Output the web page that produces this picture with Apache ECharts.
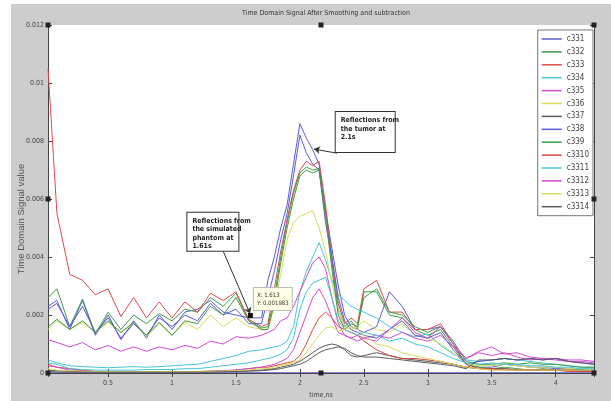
<!DOCTYPE html>
<html>
<head>
<meta charset="utf-8">
<script src="https://cdn.jsdelivr.net/npm/echarts@6/dist/echarts.min.js"></script>
<style>
html, body { margin: 0; padding: 0; background: #fff; }
#echarts1 { width: 611px; height: 401px; }
</style>
</head>
<body>
<div id="echarts1"></div>
<script>
// time axis (ns), finer around the peak
var times = [0.03, 0.1,0.2,0.3,0.4,0.5,0.6,0.7,0.8,0.9,1.0,1.1,1.2,1.3,1.4,1.5,1.6,1.7,
    1.75,1.8,1.85,1.9,1.95,2.0,2.05,2.1,2.15,2.2,2.25,2.3,2.35,2.4,2.45,2.5,
    2.6,2.7,2.8,2.9,3.0,3.1,3.2,3.3,3.4,3.5,3.6,3.7,3.8,3.9,4.0,4.1,4.2,4.3];

// signal values, x 1e-3
var c331 = [2.3,2.5,1.5,2.5,1.3,2.0,1.15,1.8,1.2,2.0,1.5,2.1,2.2,2.5,2.1,2.0,1.9,1.9, 3.2,4.0,5.0,5.8,7.2,8.6,8.1,7.7,7.2,5.6,4.3,3.0,2.0,1.6,1.5,1.4, 1.6,2.8,2.3,1.5,1.5,1.6,1.0,0.3,0.2,0.2,0.3,0.25,0.2,0.2,0.15,0.15,0.1,0.1];
var c332 = [2.6,2.9,1.6,2.55,1.35,2.1,1.5,2.0,1.7,2.05,1.8,2.2,2.1,2.6,2.3,2.75,1.8,1.55, 1.6,2.6,4.0,5.2,6.2,6.9,7.1,7.0,7.05,5.6,3.8,2.2,1.6,1.8,1.5,2.8, 2.8,2.0,1.9,1.5,1.3,1.5,0.9,0.3,0.2,0.15,0.2,0.15,0.1,0.15,0.1,0.1,0.1,0.05];
var c333 = [10.5,5.5,3.4,3.2,2.7,2.9,1.95,2.6,1.9,2.45,1.9,2.45,2.1,2.75,2.5,2.8,1.85,1.6, 1.7,2.9,4.2,5.3,6.3,7.0,7.3,7.15,7.3,5.8,4.0,2.4,1.7,1.9,1.7,2.9, 3.2,2.1,2.1,1.5,1.5,1.7,1.0,0.3,0.15,0.1,0.15,0.1,0.1,0.1,0.1,0.05,0.05,0.05];
var c334 = [0.45,0.35,0.25,0.22,0.2,0.18,0.2,0.22,0.2,0.22,0.25,0.28,0.3,0.4,0.5,0.6,0.75,0.8, 0.85,0.9,0.95,1.1,1.6,2.8,3.5,4.0,4.5,3.9,3.2,2.7,2.5,2.3,2.2,2.1, 1.9,1.6,1.4,1.25,1.35,0.95,0.65,0.45,0.4,0.45,0.5,0.45,0.4,0.35,0.3,0.25,0.2,0.2];
var c335 = [1.15,1.05,0.9,1.05,0.8,0.95,0.75,0.9,0.75,0.9,0.8,0.95,0.85,1.1,1.0,1.25,1.2,1.3, 1.4,1.5,1.8,1.9,2.3,2.8,3.3,3.8,4.0,3.6,2.6,1.7,1.3,1.2,1.3,1.2, 1.3,1.2,1.4,1.2,1.1,1.3,0.9,0.5,0.75,0.9,0.65,0.7,0.55,0.5,0.5,0.45,0.45,0.4];
var c336 = [1.5,1.8,1.5,1.75,1.4,1.75,1.4,1.7,1.25,1.7,1.3,1.75,1.5,2.0,1.6,1.9,1.6,1.5, 1.5,2.3,3.4,4.6,5.2,5.4,5.5,5.6,5.0,4.2,3.1,2.2,1.6,1.5,1.6,1.8, 1.5,1.4,1.7,1.3,1.2,1.0,0.7,0.3,0.25,0.25,0.3,0.25,0.2,0.2,0.2,0.15,0.15,0.1];
var c337 = [0.1,0.08,0.06,0.05,0.05,0.05,0.05,0.05,0.05,0.05,0.05,0.05,0.05,0.06,0.06,0.07,0.08,0.1, 0.12,0.15,0.2,0.25,0.3,0.4,0.55,0.7,0.85,0.95,1.0,0.95,0.8,0.6,0.55,0.6, 0.7,0.6,0.5,0.45,0.4,0.35,0.3,0.2,0.15,0.15,0.15,0.1,0.1,0.1,0.1,0.1,0.1,0.1];
var c338 = [2.2,2.4,1.6,2.3,1.4,1.9,1.2,1.7,1.3,1.9,1.6,2.0,1.8,2.4,2.0,2.2,1.7,1.7, 2.6,3.5,4.6,5.5,6.8,8.2,7.6,7.2,7.0,5.2,4.0,2.6,1.8,1.5,1.4,1.3, 1.2,1.5,1.8,1.3,1.2,1.4,0.8,0.3,0.4,0.45,0.5,0.45,0.5,0.45,0.5,0.4,0.35,0.3];
var c339 = [1.6,1.85,1.5,1.8,1.4,1.8,1.4,1.75,1.3,1.75,1.3,1.8,1.7,2.3,2.0,2.6,1.8,1.5, 1.5,2.4,3.8,5.0,6.0,6.8,7.0,6.9,7.0,5.4,3.6,2.0,1.5,1.7,1.6,2.6, 2.9,2.1,2.0,1.6,1.4,1.6,1.1,0.4,0.3,0.3,0.35,0.3,0.35,0.3,0.3,0.25,0.2,0.2];
var c3310 = [0.3,0.2,0.15,0.1,0.05,0.05,0.05,0.05,0.05,0.05,0.05,0.05,0.05,0.06,0.08,0.1,0.15,0.2, 0.2,0.25,0.3,0.35,0.4,0.6,1.0,1.5,1.9,2.1,1.9,1.6,1.5,1.4,1.3,1.1, 0.8,0.6,0.5,0.5,0.45,0.4,0.3,0.2,0.15,0.15,0.1,0.1,0.1,0.1,0.1,0.1,0.05,0.05];
var c3311 = [0.35,0.3,0.15,0.12,0.1,0.1,0.1,0.1,0.12,0.12,0.12,0.15,0.15,0.2,0.25,0.3,0.35,0.45, 0.5,0.55,0.65,0.8,1.2,2.2,2.8,3.1,3.2,3.3,2.6,1.8,1.5,1.4,1.3,1.4, 1.3,1.1,1.2,1.0,0.9,0.7,0.5,0.35,0.3,0.35,0.3,0.3,0.25,0.25,0.2,0.2,0.15,0.15];
var c3312 = [0.25,0.2,0.1,0.08,0.05,0.05,0.05,0.05,0.05,0.05,0.05,0.05,0.05,0.05,0.08,0.1,0.15,0.2, 0.25,0.3,0.4,0.5,0.8,1.4,2.0,2.6,2.9,2.5,1.9,1.4,1.3,1.2,1.1,1.2, 1.1,1.5,1.9,1.4,1.2,1.6,1.0,0.5,0.7,0.6,0.7,0.55,0.45,0.5,0.45,0.4,0.4,0.35];
var c3313 = [0.15,0.1,0.08,0.06,0.05,0.05,0.05,0.05,0.05,0.05,0.05,0.05,0.05,0.06,0.07,0.08,0.1,0.15, 0.15,0.2,0.25,0.3,0.35,0.45,0.7,1.0,1.3,1.55,1.6,1.45,1.5,1.6,1.5,1.3, 1.0,0.9,0.7,0.6,0.5,0.4,0.3,0.2,0.15,0.1,0.1,0.1,0.1,0.1,0.1,0.1,0.1,0.1];
var c3314 = [0.05,0.04,0.03,0.03,0.03,0.03,0.03,0.03,0.03,0.03,0.03,0.03,0.03,0.03,0.04,0.05,0.06,0.08, 0.1,0.12,0.15,0.2,0.25,0.3,0.4,0.55,0.7,0.8,0.85,0.9,0.85,0.7,0.6,0.55, 0.55,0.5,0.45,0.4,0.35,0.3,0.25,0.15,0.45,0.45,0.5,0.45,0.5,0.45,0.5,0.4,0.35,0.3];

var names = ['c331','c332','c333','c334','c335','c336','c337','c338','c339','c3310','c3311','c3312','c3313','c3314'];
var values = [c331,c332,c333,c334,c335,c336,c337,c338,c339,c3310,c3311,c3312,c3313,c3314];
// matlab bgrcmyk, washed out like the photo
var colors = ['#5b5bd6','#3f9b45','#e04a4a','#45c6d6','#d04ad0','#dada5a','#5a5a5a',
              '#5b5bd6','#3f9b45','#d4493a','#45c6d6','#d04ad0','#dada5a','#5a5a5a'];

var FONT = "'Liberation Sans Narrow', 'DejaVu Sans Condensed', sans-serif";

var myChart1 = echarts.init(document.getElementById("echarts1"));

var series = names.map(function (n, k) {
    return {
        name: n,
        type: 'line',
        showSymbol: false,
        animation: false,
        color: colors[k],
        lineStyle: {width: 1, color: colors[k]},
        data: times.map(function (t, i) { return [t, values[k][i] / 1000]; })
    };
});

var boxLabel = {
    show: true, position: [0, 0], align: 'left', verticalAlign: 'top',
    backgroundColor: '#fff', borderColor: '#333', borderWidth: 1,
    padding: [4, 4, 4, 5], fontFamily: FONT, fontSize: 7, fontWeight: 'bold',
    color: '#222', lineHeight: 8.5
};
var handle = {symbol: 'rect', symbolSize: 5, itemStyle: {color: '#222'}, label: {show: false}};

// annotations ride on the first series
series[0].markPoint = {
    animation: false,
    data: [
        {coord: [1.12, 0.00553], symbol: 'rect', symbolSize: 0,
         label: Object.assign({}, boxLabel, {formatter: 'Reflections from\nthe simulated\nphantom at\n1.61s', width: 42, height: 30})},
        {coord: [2.28, 0.00900], symbol: 'rect', symbolSize: 0,
         label: Object.assign({}, boxLabel, {formatter: 'Reflections from\nthe tumor at\n2.1s', width: 50, height: 32})},
        {coord: [1.613, 0.001983], symbol: 'rect', symbolSize: 5, itemStyle: {color: '#111'},
         label: {show: true, position: [6, -25], align: 'left', verticalAlign: 'top',
                 formatter: 'X: 1.613\nY: 0.001983', backgroundColor: '#ffffe6', borderColor: '#bbb',
                 borderWidth: 1, padding: [3, 3, 3, 3], fontFamily: FONT, fontSize: 6, color: '#333', lineHeight: 8}},
        Object.assign({coord: [0.03, 0.012]}, handle),
        Object.assign({coord: [2.165, 0.012]}, handle),
        Object.assign({coord: [4.3, 0.012]}, handle),
        Object.assign({coord: [4.3, 0.006]}, handle),
        Object.assign({coord: [4.3, 0]}, handle),
        Object.assign({coord: [2.165, 0]}, handle),
        Object.assign({coord: [0.03, 0]}, handle),
        Object.assign({coord: [0.03, 0.006]}, handle)
    ]
};
series[0].markLine = {
    animation: false, silent: true,
    symbol: ['none', 'arrow'], symbolSize: 6,
    lineStyle: {color: '#333', width: 1, type: 'solid'},
    label: {show: false},
    data: [
        [{coord: [1.40, 0.0042]}, {coord: [1.61, 0.00205]}],
        [{coord: [2.29, 0.00758]}, {coord: [2.11, 0.00772]}]
    ]
};

var tickStyle = {show: true, inside: true, length: 4, lineStyle: {color: '#444'}};
var axisFont = {fontFamily: FONT, fontSize: 7, color: '#444'};

var option1 = {
    backgroundColor: '#fff',
    animation: false,
    graphic: [{type: 'rect', silent: true, z: -10, shape: {x: 11, y: 4, width: 600, height: 397}, style: {fill: '#cdcdcd'}}],
    title: {
        text: 'Time Domain Signal After Smoothing and subtraction',
        left: 321, top: 5, textAlign: 'center',
        textStyle: {fontFamily: FONT, fontSize: 7, fontWeight: 'normal', color: '#333'}
    },
    legend: {
        orient: 'vertical', right: 18, top: 30,
        data: names, icon: 'rect', itemWidth: 20, itemHeight: 1.5, itemGap: 2.9,
        backgroundColor: '#fff', borderColor: '#777', borderWidth: 1, padding: [4, 4, 4, 4],
        textStyle: {fontFamily: FONT, fontSize: 8, color: '#444', lineHeight: 10}
    },
    grid: {left: 48, right: 17, top: 25, bottom: 28, show: true, backgroundColor: '#fff', borderWidth: 0,
           outerBoundsMode: 'none'},
    xAxis: [
        {type: 'value', min: 0.03, max: 4.3, splitNumber: 9, minInterval: 0.5, maxInterval: 0.5,
         name: 'time,ns', nameLocation: 'middle', nameGap: 18, nameTextStyle: axisFont,
         axisLine: {lineStyle: {color: '#5a5ad0', width: 1.5}},
         axisTick: tickStyle, splitLine: {show: false},
         axisLabel: Object.assign({showMinLabel: false, showMaxLabel: false, margin: 7}, axisFont)},
        {type: 'value', position: 'top', min: 0.03, max: 4.3, splitNumber: 9, minInterval: 0.5, maxInterval: 0.5,
         axisLine: {lineStyle: {color: '#444'}}, axisTick: tickStyle, splitLine: {show: false},
         axisLabel: {show: false}}
    ],
    yAxis: [
        {type: 'value', min: 0, max: 0.012, interval: 0.002,
         name: 'Time Domain Signal value', nameLocation: 'middle', nameGap: 22, nameMoveOverlap: false,
         nameTextStyle: {fontFamily: "'Liberation Sans', sans-serif", fontSize: 9.5, color: '#555', padding: [0, 40, 0, 0]},
         axisLine: {show: true, lineStyle: {color: '#444'}}, axisTick: tickStyle, splitLine: {show: false},
         axisLabel: Object.assign({margin: 4}, axisFont)},
        {type: 'value', position: 'right', min: 0, max: 0.012, interval: 0.002,
         axisLine: {show: true, lineStyle: {color: '#444'}}, axisTick: tickStyle, splitLine: {show: false},
         axisLabel: {show: false}}
    ],
    series: series
};
myChart1.setOption(option1);
</script>
</body>
</html>
